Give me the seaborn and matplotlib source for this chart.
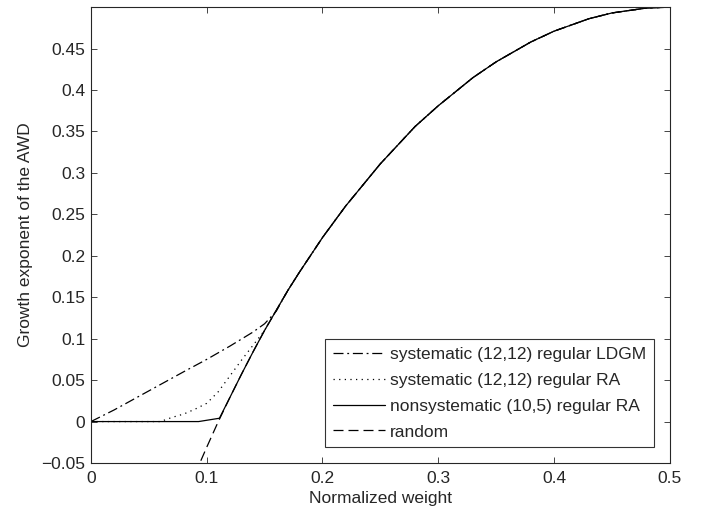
import numpy as np
import pandas as pd
import matplotlib
matplotlib.use("Agg")
import matplotlib.pyplot as plt
import seaborn as sns

sns.set_style("ticks")
plt.rcParams["font.family"] = ["Liberation Sans", "DejaVu Sans"]
plt.rcParams["axes.unicode_minus"] = True

# shared upper part of all curves
upper_w = [0.17, 0.18, 0.20, 0.22, 0.25, 0.28, 0.30, 0.33, 0.35, 0.38, 0.40, 0.43, 0.45, 0.48, 0.50]
upper_g = [0.158, 0.180, 0.222, 0.260, 0.311, 0.356, 0.381, 0.415, 0.434, 0.458, 0.471, 0.486, 0.493, 0.499, 0.500]

# systematic (12,12) regular LDGM
ldgm_w = [0.0, 0.02, 0.05, 0.08, 0.10, 0.12, 0.14, 0.15, 0.16]
ldgm_g = [0.0, 0.014, 0.037, 0.060, 0.075, 0.091, 0.108, 0.118, 0.133]

# systematic (12,12) regular RA
ra_w = [0.0, 0.06, 0.07, 0.08, 0.09, 0.10, 0.11, 0.12, 0.13, 0.14, 0.15, 0.16]
ra_g = [0.0, 0.0, 0.005, 0.009, 0.015, 0.022, 0.036, 0.055, 0.074, 0.092, 0.110, 0.134]

# nonsystematic (10,5) regular RA
ns_w = [0.0, 0.093, 0.111, 0.12, 0.13, 0.14, 0.15, 0.16]
ns_g = [0.0, 0.0, 0.004, 0.029, 0.057, 0.084, 0.110, 0.134]

# random code
rnd_w = [0.09, 0.095, 0.10, 0.11, 0.12, 0.13, 0.14, 0.15, 0.16]
rnd_g = [-0.064, -0.047, -0.031, 0.0, 0.029, 0.057, 0.084, 0.110, 0.134]

series = [
    ("systematic (12,12) regular LDGM", ldgm_w + upper_w, ldgm_g + upper_g, (0, (8, 3, 1.5, 3))),
    ("systematic (12,12) regular RA", ra_w + upper_w, ra_g + upper_g, (0, (1, 3.5))),
    ("nonsystematic (10,5) regular RA", ns_w + upper_w, ns_g + upper_g, "-"),
    ("random", rnd_w + upper_w, rnd_g + upper_g, (0, (8, 4))),
]

fs = 12.5
fig = plt.figure(figsize=(7.05, 5.12), dpi=100)
ax = fig.add_axes([0.129, 0.0957, 0.821, 0.8903])

for label, w, g, ls in series:
    df = pd.DataFrame({"w": w, "g": g})
    sns.lineplot(data=df, x="w", y="g", ax=ax, color="black", linewidth=0.9,
                 linestyle=ls, label=label, sort=False)

ax.set_xlim(0, 0.5)
ax.set_ylim(-0.05, 0.5)
ax.set_xticks([0, 0.1, 0.2, 0.3, 0.4, 0.5])
ax.set_xticklabels(["0", "0.1", "0.2", "0.3", "0.4", "0.5"])
yt = [-0.05, 0, 0.05, 0.1, 0.15, 0.2, 0.25, 0.3, 0.35, 0.4, 0.45]
ax.set_yticks(yt)
ax.set_yticklabels(["\u22120.05", "0", "0.05", "0.1", "0.15", "0.2", "0.25",
                    "0.3", "0.35", "0.4", "0.45"])
ax.tick_params(direction="in", top=True, right=True, labelsize=fs, length=4, width=0.6)
ax.tick_params(axis="x", pad=6)
ax.tick_params(axis="y", pad=4)
for s in ax.spines.values():
    s.set_linewidth(0.8)
    s.set_visible(True)
ax.set_xlabel("Normalized weight", fontsize=fs, labelpad=3)
ax.set_ylabel("Growth exponent of the AWD", fontsize=fs, labelpad=6)

leg = ax.legend(loc="lower right", fontsize=fs, handlelength=3.0, frameon=True,
                fancybox=False, edgecolor="black", borderaxespad=0.9, borderpad=0.45,
                labelspacing=0.62, handletextpad=0.3)
leg.get_frame().set_linewidth(0.8)

fig.savefig("out.png", dpi=100)
